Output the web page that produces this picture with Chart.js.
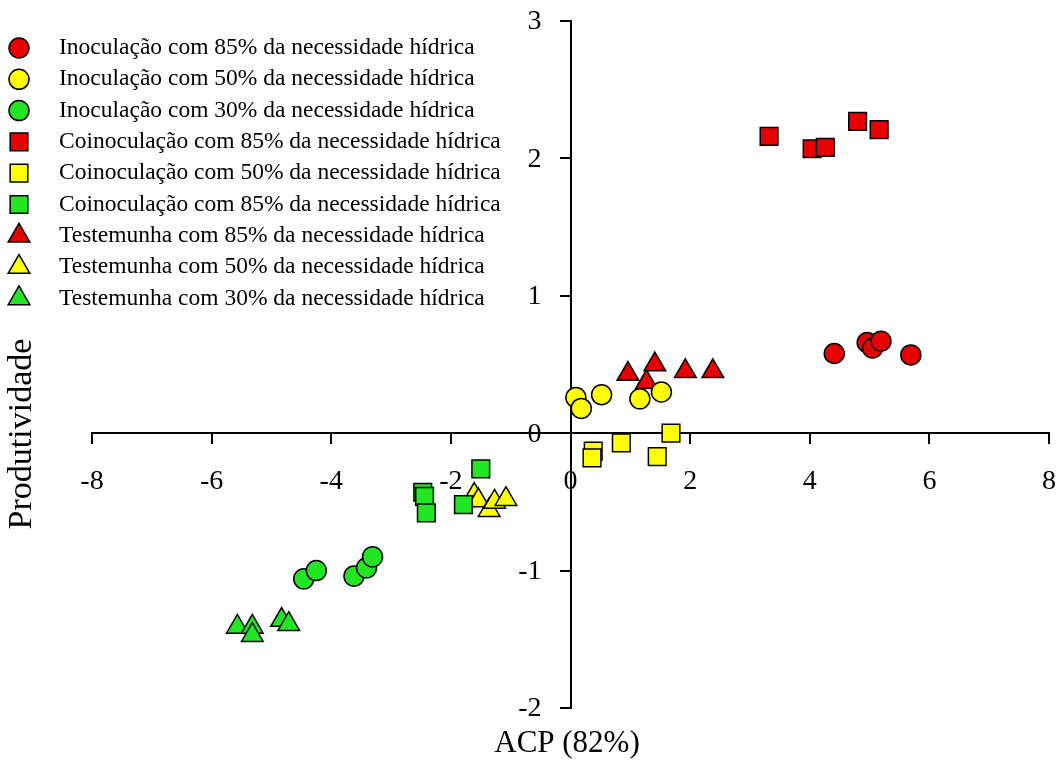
<!DOCTYPE html>
<html>
<head>
<meta charset="utf-8">
<script src="https://cdn.jsdelivr.net/npm/chart.js@4"></script>
<style>
  body { margin: 0; background: #fff; }
</style>
</head>
<body>
<canvas id="myChart" width="1063" height="762"></canvas>
<script>
// PCA scores (ACP 82%) vs produtividade
const inoc85X = [4.41, 4.96, 5.05, 5.19, 5.69];
const inoc85Y = [0.58, 0.66, 0.62, 0.67, 0.57];
const inoc50X = [0.09, 0.18, 0.52, 1.16, 1.52];
const inoc50Y = [0.26, 0.18, 0.28, 0.25, 0.30];
const inoc30X = [-4.46, -4.25, -3.62, -3.41, -3.31];
const inoc30Y = [-1.06, -1.00, -1.04, -0.98, -0.90];
const coin85X = [3.32, 4.04, 4.26, 4.80, 5.16];
const coin85Y = [2.16, 2.07, 2.08, 2.27, 2.21];
const coin50X = [0.38, 0.36, 0.85, 1.45, 1.68];
const coin50Y = [-0.13, -0.18, -0.07, -0.17, 0.00];
const coin30X = [-2.47, -2.44, -2.41, -1.79, -1.50];
const coin30Y = [-0.43, -0.46, -0.58, -0.52, -0.26];
const test85X = [0.96, 1.27, 1.41, 1.92, 2.38];
const test85Y = [0.43, 0.37, 0.50, 0.45, 0.45];
const test50X = [-1.61, -1.54, -1.36, -1.27, -1.08];
const test50Y = [-0.45, -0.49, -0.56, -0.50, -0.48];
const test30X = [-5.57, -5.32, -5.32, -4.83, -4.71];
const test30Y = [-1.41, -1.41, -1.47, -1.36, -1.39];

const seriesLabels = [
    'Inoculação com 85% da necessidade hídrica',
    'Inoculação com 50% da necessidade hídrica',
    'Inoculação com 30% da necessidade hídrica',
    'Coinoculação com 85% da necessidade hídrica',
    'Coinoculação com 50% da necessidade hídrica',
    'Coinoculação com 85% da necessidade hídrica',
    'Testemunha com 85% da necessidade hídrica',
    'Testemunha com 50% da necessidade hídrica',
    'Testemunha com 30% da necessidade hídrica'
];
const xTitle = 'ACP (82%)';
const yTitle = 'Produtividade';

const RED = '#e80000';
const YELLOW = '#ffff00';
const GREEN = '#22e622';
const serif = "'Liberation Serif', 'Times New Roman', serif";

const pts = (xs, ys) => xs.map((x, i) => ({x: x, y: ys[i]}));
const radiusFor = { circle: 10, rect: 12.5, triangle: 12.5 };

const makeSet = function(label, xs, ys, color, style) {
    return {
        label: label,
        data: pts(xs, ys),
        pointStyle: style,
        pointRadius: radiusFor[style],
        pointHoverRadius: radiusFor[style],
        backgroundColor: color,
        borderColor: '#000',
        borderWidth: 1.5
    };
};

const datasets = [
    makeSet(seriesLabels[0], inoc85X, inoc85Y, RED, 'circle'),
    makeSet(seriesLabels[1], inoc50X, inoc50Y, YELLOW, 'circle'),
    makeSet(seriesLabels[2], inoc30X, inoc30Y, GREEN, 'circle'),
    makeSet(seriesLabels[3], coin85X, coin85Y, RED, 'rect'),
    makeSet(seriesLabels[4], coin50X, coin50Y, YELLOW, 'rect'),
    makeSet(seriesLabels[5], coin30X, coin30Y, GREEN, 'rect'),
    makeSet(seriesLabels[6], test85X, test85Y, RED, 'triangle'),
    makeSet(seriesLabels[7], test50X, test50Y, YELLOW, 'triangle'),
    makeSet(seriesLabels[8], test30X, test30Y, GREEN, 'triangle')
];

// the centred axes should not add label padding to the chart area
const noPadding = function(scale) {
    scale.paddingLeft = 0;
    scale.paddingRight = 0;
    scale.paddingTop = 0;
    scale.paddingBottom = 0;
};

// legend, y tick labels and axis titles drawn on the canvas
const extrasPlugin = {
    id: 'extras',
    afterDraw(chart) {
        const ctx = chart.ctx;
        ctx.save();
        chart.data.datasets.forEach((ds, i) => {
            const y = 48 + i * 31.3;
            ctx.fillStyle = ds.backgroundColor;
            ctx.strokeStyle = '#000';
            ctx.lineWidth = 1.5;
            Chart.helpers.drawPoint(ctx, {
                pointStyle: ds.pointStyle,
                rotation: 0,
                radius: ds.pointRadius,
                borderWidth: 1.5
            }, 19, y);
            ctx.fillStyle = '#000';
            ctx.font = '23.5px ' + serif;
            ctx.textAlign = 'left';
            ctx.textBaseline = 'middle';
            ctx.fillText(ds.label, 59, y);
        });

        // y tick labels, left of the centred y axis
        const xs = chart.scales.x;
        const ys = chart.scales.y;
        const axisX = xs.getPixelForValue(0);
        ctx.fillStyle = '#000';
        ctx.font = '28px ' + serif;
        ctx.textAlign = 'right';
        ctx.textBaseline = 'middle';
        ys.ticks.forEach(t => {
            ctx.fillText(String(t.value), axisX - 29, ys.getPixelForValue(t.value) + 1);
        });

        ctx.font = '31px ' + serif;
        ctx.textAlign = 'center';
        ctx.fillText(xTitle, 567, 744);

        ctx.font = '34px ' + serif;
        ctx.translate(22, 434);
        ctx.rotate(-Math.PI / 2);
        ctx.fillText(yTitle, 0, 0);
        ctx.restore();
    }
};

const ctx = document.getElementById('myChart').getContext('2d');
const myChart = new Chart(ctx, {
    type: 'scatter',
    data: { datasets: datasets },
    options: {
        responsive: false,
        animation: false,
        layout: { padding: { left: 92, right: 11, top: 21, bottom: 54 } },
        plugins: {
            legend: { display: false },
            tooltip: { enabled: false }
        },
        scales: {
            x: {
                type: 'linear',
                position: { y: 0 },
                min: -8,
                max: 8,
                afterFit: noPadding,
                ticks: {
                    stepSize: 2,
                    color: '#000',
                    padding: 22,
                    maxRotation: 0,
                    font: { family: serif, size: 28 }
                },
                grid: {
                    drawOnChartArea: false,
                    drawTicks: true,
                    tickLength: 10,
                    color: '#000',
                    lineWidth: 2
                },
                border: { color: '#000', width: 2 }
            },
            y: {
                type: 'linear',
                position: { x: 0 },
                min: -2,
                max: 3,
                afterFit: noPadding,
                ticks: {
                    stepSize: 1,
                    display: false
                },
                grid: {
                    drawOnChartArea: false,
                    drawTicks: true,
                    tickLength: 10,
                    color: '#000',
                    lineWidth: 2
                },
                border: { color: '#000', width: 2 }
            }
        }
    },
    plugins: [extrasPlugin]
});
</script>
</body>
</html>
